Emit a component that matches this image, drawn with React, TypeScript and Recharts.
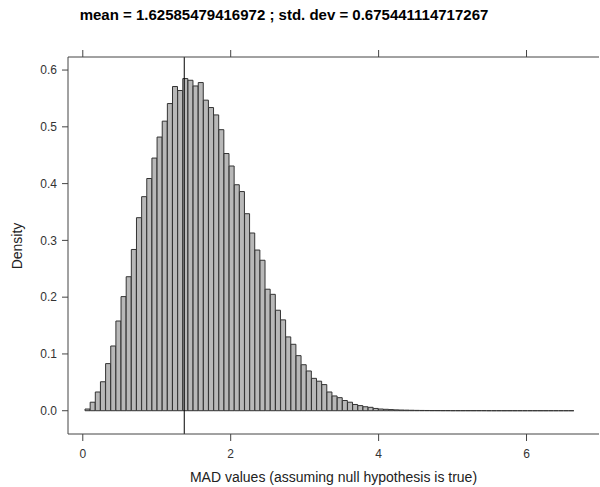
import React from "react";
import {
  ComposedChart,
  Bar,
  XAxis,
  YAxis,
  ReferenceLine,
} from "recharts";

// histogram bins (lattice style, density scale)
const binStart = 0.03;
const binWidth = 0.0696;
const densities = [
  0.003, 0.015, 0.033, 0.051, 0.083, 0.114, 0.158, 0.201, 0.236, 0.284,
  0.340, 0.377, 0.409, 0.445, 0.482, 0.510, 0.541, 0.571, 0.564, 0.585,
  0.582, 0.572, 0.578, 0.547, 0.534, 0.521, 0.495, 0.453, 0.431, 0.398,
  0.386, 0.347, 0.313, 0.283, 0.265, 0.214, 0.205, 0.177, 0.160, 0.130,
  0.117, 0.097, 0.081, 0.070, 0.057, 0.052, 0.046, 0.033, 0.026, 0.023,
  0.018, 0.015, 0.011, 0.009, 0.007, 0.006, 0.004, 0.003, 0.0025, 0.002,
  0.0015, 0.0012, 0.001, 0.0008, 0.0006, 0.0005, 0.0004, 0.0003, 0.0003, 0.0002,
  0.0002, 0.0001, 0.0001, 0.0001, 0.0001, 0.0001, 0.0001, 0.0001, 0, 0,
  0, 0, 0, 0, 0, 0, 0, 0, 0, 0,
  0, 0, 0, 0, 0,
];
const xTicks = [0, 2, 4, 6];
const yTicks = [0, 0.1, 0.2, 0.3, 0.4, 0.5, 0.6];
const observedMad = 1.372;

const titleText = "mean = 1.62585479416972 ; std. dev = 0.675441114717267";
const xLabel = "MAD values (assuming null hypothesis is true)";
const yLabel = "Density";

const data = densities.map((d, i) => ({
  x: binStart + (i + 0.5) * binWidth,
  density: d,
}));

// draw as a path so empty bins still show as a flat line
const HistBar = (props: any) => {
  const { x, y, width, height } = props;
  if (x == null || y == null) return null;
  return (
    <path
      d={`M${x},${y}h${width}v${height}h${-width}Z`}
      fill="#b8b8b8"
      stroke="#333"
      strokeWidth={1}
    />
  );
};

const NoLabel = () => <g />;

export default function App() {
  return (
    <div
      style={{
        position: "absolute",
        left: 0,
        top: 0,
        width: 600,
        height: 487,
        fontFamily: "'Liberation Sans', Arial, sans-serif",
        background: "#fff",
      }}
    >
      <div
        style={{
          position: "absolute",
          left: 0,
          width: 568,
          top: 5,
          lineHeight: "20px",
          fontSize: 15,
          fontWeight: "bold",
          textAlign: "center",
          color: "#000",
        }}
      >
        {titleText}
      </div>
      <ComposedChart
        width={600}
        height={487}
        data={data}
        margin={{ top: 49, right: 1, bottom: 23, left: 18 }}
        barCategoryGap={0}
        barGap={0}
      >
        <XAxis
          type="number"
          dataKey="x"
          domain={[-0.2, 6.98]}
          ticks={xTicks}
          allowDataOverflow
          height={30}
          tickSize={7}
          tickMargin={8}
          stroke="#444"
          tick={{ fill: "#333", fontSize: 12 }}
        />
        <XAxis
          xAxisId="top"
          orientation="top"
          type="number"
          dataKey="x"
          domain={[-0.2, 6.98]}
          ticks={xTicks}
          allowDataOverflow
          height={8}
          tickSize={7}
          tick={<NoLabel />}
          stroke="#444"
        />
        <YAxis
          type="number"
          domain={[-0.041, 0.623]}
          ticks={yTicks}
          allowDataOverflow
          width={50}
          tickSize={6}
          tickMargin={5}
          stroke="#444"
          tick={{ fill: "#333", fontSize: 12 }}
          tickFormatter={(v: number) => v.toFixed(1)}
        />
        <YAxis
          yAxisId="right"
          orientation="right"
          type="number"
          domain={[-0.041, 0.623]}
          width={0}
          tick={false}
          tickLine={false}
          stroke="#444"
        />
        <Bar
          dataKey="density"
          shape={<HistBar />}
          isAnimationActive={false}
        />
        <ReferenceLine x={observedMad} stroke="#000" strokeWidth={1} />
      </ComposedChart>
      <div
        style={{
          position: "absolute",
          left: 68,
          width: 531,
          top: 468,
          lineHeight: "18px",
          fontSize: 14,
          textAlign: "center",
          color: "#222",
        }}
      >
        {xLabel}
      </div>
      <div
        style={{
          position: "absolute",
          left: 17,
          top: 246,
          fontSize: 14,
          lineHeight: "18px",
          color: "#222",
          whiteSpace: "nowrap",
          transform: "translate(-50%, -50%) rotate(-90deg)",
        }}
      >
        {yLabel}
      </div>
    </div>
  );
}
